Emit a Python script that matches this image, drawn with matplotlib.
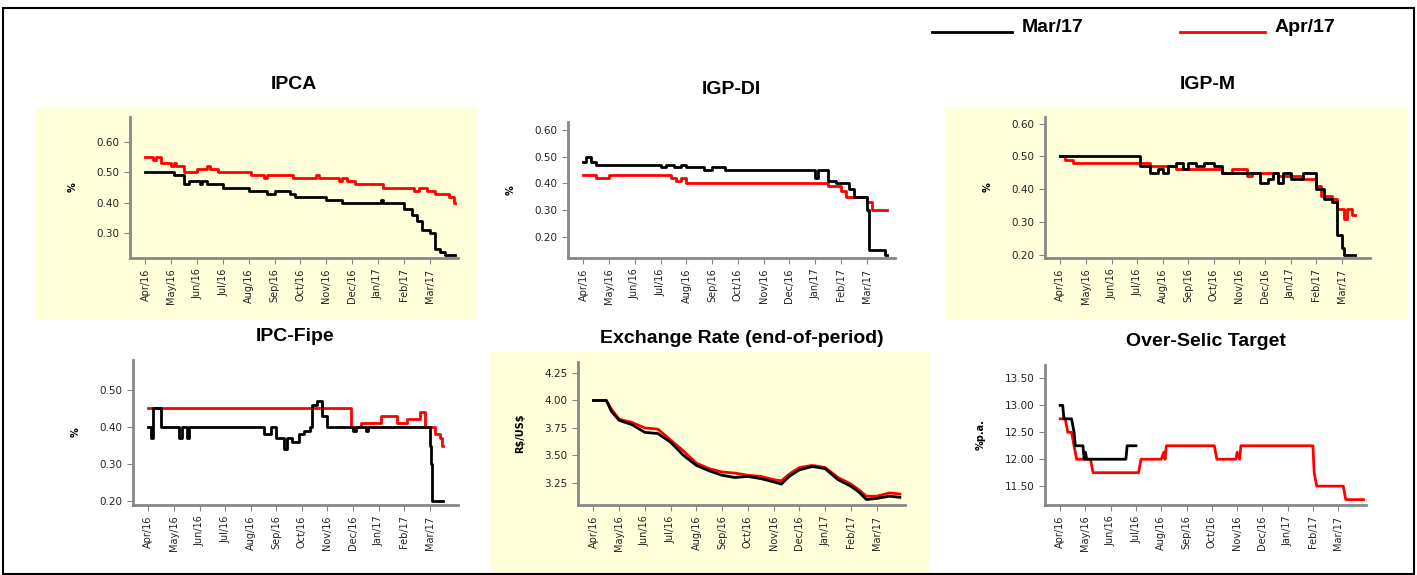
import matplotlib.pyplot as plt
import matplotlib.patches as patches
import numpy as np

plt.rcParams['font.family'] = ['DejaVu Sans']

months = ['Apr/16', 'May/16', 'Jun/16', 'Jul/16', 'Aug/16', 'Sep/16', 'Oct/16',
          'Nov/16', 'Dec/16', 'Jan/17', 'Feb/17', 'Mar/17']

# (x in months since Apr/16, value) breakpoints
ipca_mar = [(0, .50), (1.1, .49), (1.5, .46), (1.7, .47), (2.1, .46), (2.2, .47), (2.4, .46), (3.0, .45),
            (4.0, .44), (4.7, .43), (5.0, .44), (5.6, .43), (5.8, .42), (7.0, .41), (7.6, .40), (9.1, .41),
            (9.2, .40), (10.0, .38), (10.3, .36), (10.5, .34), (10.7, .31), (11.0, .30), (11.2, .25),
            (11.4, .24), (11.6, .23), (12.0, .23)]
ipca_apr = [(0, .55), (0.3, .54), (0.4, .55), (0.6, .53), (1.0, .52), (1.1, .53), (1.2, .52), (1.5, .50),
            (2.0, .51), (2.4, .52), (2.5, .51), (2.8, .50), (4.1, .49), (4.6, .48), (4.7, .49), (5.7, .48),
            (6.6, .49), (6.7, .48), (7.5, .47), (7.6, .48), (7.8, .47), (8.1, .46), (9.2, .45), (10.4, .44),
            (10.6, .45), (10.9, .44), (11.2, .43), (11.75, .42), (11.95, .40), (12.0, .40)]
igpdi_mar = [(0, .48), (0.1, .50), (0.3, .48), (0.5, .47), (3.0, .46), (3.2, .47), (3.5, .46), (3.8, .47),
             (4.0, .46), (4.5, .46), (4.7, .45), (5.0, .46), (5.5, .45), (9.0, .42), (9.1, .45), (9.5, .41),
             (9.8, .40), (10.3, .38), (10.5, .35), (11.0, .30), (11.1, .15), (11.7, .13), (11.8, .13)]
igpdi_apr = [(0, .43), (0.5, .42), (1.0, .43), (3.4, .42), (3.6, .41), (3.8, .42), (4.0, .40), (9.5, .39),
             (10.0, .37), (10.2, .35), (11.0, .33), (11.2, .30), (11.8, .30)]
igpm_mar = [(0, .50), (3.1, .47), (3.5, .45), (3.8, .46), (4.0, .45), (4.2, .47), (4.5, .48), (4.8, .46),
            (5.0, .48), (5.3, .47), (5.6, .48), (6.0, .47), (6.3, .45), (7.8, .42), (8.1, .43), (8.3, .45),
            (8.5, .42), (8.7, .45), (9.0, .43), (9.5, .45), (10.0, .40), (10.3, .37), (10.6, .36),
            (10.8, .26), (11.0, .22), (11.1, .20), (11.5, .20)]
igpm_apr = [(0, .50), (0.2, .49), (0.5, .48), (3.5, .47), (4.5, .46), (6.3, .45), (6.7, .46), (7.3, .44),
            (7.5, .45), (8.5, .44), (9.5, .43), (10.0, .41), (10.2, .38), (10.6, .37), (10.8, .34),
            (11.1, .31), (11.2, .34), (11.4, .32), (11.5, .32)]
fipe_mar = [(0, .40), (0.1, .37), (0.2, .45), (0.5, .40), (1.2, .37), (1.3, .40), (1.5, .37), (1.6, .40),
            (4.5, .38), (4.8, .40), (5.0, .37), (5.3, .34), (5.4, .37), (5.6, .36), (5.9, .38), (6.1, .39),
            (6.3, .40), (6.4, .46), (6.6, .47), (6.8, .43), (7.0, .40), (8.0, .39), (8.1, .40), (8.5, .39),
            (8.6, .40), (11.0, .35), (11.05, .30), (11.1, .20), (11.5, .20)]
fipe_apr = [(0, .45), (7.9, .40), (8.3, .41), (8.7, .41), (9.1, .43), (9.7, .41), (10.1, .42), (10.6, .44),
            (10.8, .40), (11.2, .38), (11.4, .37), (11.48, .35), (11.5, .35)]
fx_mar = [(0, 4.00), (0.5, 4.00), (0.7, 3.90), (1.0, 3.82), (1.5, 3.78), (2.0, 3.71), (2.5, 3.70), (3.0, 3.62),
          (3.5, 3.50), (4.0, 3.41), (4.5, 3.36), (5.0, 3.32), (5.5, 3.30), (6.0, 3.31), (6.5, 3.29),
          (7.0, 3.26), (7.3, 3.24), (7.6, 3.31), (8.0, 3.37), (8.5, 3.40), (9.0, 3.38), (9.5, 3.28),
          (10.0, 3.22), (10.3, 3.17), (10.6, 3.10), (11.0, 3.11), (11.5, 3.13), (11.9, 3.12)]
fx_apr = [(0, 4.00), (0.5, 4.00), (0.7, 3.92), (1.0, 3.83), (1.5, 3.80), (2.0, 3.75), (2.5, 3.74), (3.0, 3.64),
          (3.5, 3.54), (4.0, 3.43), (4.5, 3.38), (5.0, 3.35), (5.5, 3.34), (6.0, 3.32), (6.5, 3.31),
          (7.0, 3.28), (7.3, 3.27), (7.6, 3.33), (8.0, 3.39), (8.5, 3.41), (9.0, 3.39), (9.5, 3.30),
          (10.0, 3.24), (10.3, 3.19), (10.6, 3.13), (11.0, 3.13), (11.5, 3.16), (11.9, 3.15)]
selic_mar = [(0, 13.0), (0.1, 13.0), (0.15, 12.75), (0.45, 12.75), (0.55, 12.5), (0.6, 12.25), (0.9, 12.25),
             (0.95, 12.0), (1.0, 12.13), (1.05, 12.0), (2.6, 12.0), (2.65, 12.25), (3.0, 12.25)]
selic_apr = [(0, 12.75), (0.2, 12.75), (0.25, 12.63), (0.3, 12.5), (0.45, 12.5), (0.55, 12.25),
             (0.65, 12.0), (1.2, 12.0), (1.3, 11.75), (3.1, 11.75), (3.2, 12.0), (4.0, 12.0), (4.1, 12.13),
             (4.15, 12.0), (4.2, 12.25), (6.1, 12.25), (6.2, 12.0), (6.95, 12.0), (7.0, 12.13), (7.1, 12.0),
             (7.15, 12.25), (10.0, 12.25), (10.05, 11.75), (10.15, 11.5), (11.2, 11.5), (11.3, 11.25),
             (12.0, 11.25)]

panels = [
    # title, mar, apr, step, ylim, ticks, ylabel, axes rect (px: l, t, r, b)
    ('IPCA', ipca_mar, ipca_apr, True, (0.22, 0.68), [.3, .4, .5, .6], '%', (130, 117, 458, 258)),
    ('IGP-DI', igpdi_mar, igpdi_apr, True, (0.12, 0.63), [.2, .3, .4, .5, .6], '%', (568, 122, 895, 258)),
    ('IGP-M', igpm_mar, igpm_apr, True, (0.19, 0.62), [.2, .3, .4, .5, .6], '%', (1045, 117, 1370, 258)),
    ('IPC-Fipe', fipe_mar, fipe_apr, True, (0.19, 0.58), [.2, .3, .4, .5], '%', (133, 360, 458, 505)),
    ('Exchange Rate (end-of-period)', fx_mar, fx_apr, False, (3.05, 4.35), [3.25, 3.5, 3.75, 4.0, 4.25],
     r'R\$/US\$', (578, 362, 905, 505)),
    ('Over-Selic Target', selic_mar, selic_apr, False, (11.15, 13.75), [11.5, 12.0, 12.5, 13.0, 13.5],
     '%p.a.', (1045, 365, 1366, 505)),
]
yellow_boxes = [(35, 107, 477, 320), (945, 107, 1408, 320), (490, 352, 930, 575)]

W, H = 1417, 575
fig = plt.figure(figsize=(W / 100, H / 100), dpi=100)
for l, t, r, b in yellow_boxes:
    fig.patches.append(patches.Rectangle((l / W, 1 - b / H), (r - l) / W, (b - t) / H,
                                         transform=fig.transFigure, facecolor='#ffffd9', edgecolor='none',
                                         zorder=-5))
fig.patches.append(patches.Rectangle((3 / W, 1 / H), (W - 6) / W, (H - 9) / H, transform=fig.transFigure,
                                     facecolor='none', edgecolor='black', lw=1.5, zorder=-4))

title_font = ['Liberation Sans', 'DejaVu Sans']
for title, mar, apr, step, ylim, ticks, ylab, (l, t, r, b) in panels:
    ax = fig.add_axes([l / W, 1 - b / H, (r - l) / W, (b - t) / H])
    ax.patch.set_alpha(0)
    for data, c in ((apr, 'red'), (mar, 'black')):
        x = [p[0] for p in data]
        y = [p[1] for p in data]
        if step:
            ax.step(x, y, where='post', color=c, lw=2)
        else:
            ax.plot(x, y, color=c, lw=2)
    ax.set_xlim(-0.6, 12.1)
    ax.set_ylim(*ylim)
    ax.set_yticks(ticks)
    ax.set_yticklabels([f'{v:.2f}' for v in ticks], fontsize=7.5)
    ax.set_xticks(range(12))
    ax.set_xticklabels(months, rotation=90, fontsize=7)
    ax.set_ylabel(ylab, fontsize=7, fontweight='bold', labelpad=14)
    for s in ('top', 'right'):
        ax.spines[s].set_visible(False)
    for s in ('left', 'bottom'):
        ax.spines[s].set_color('#888888')
        ax.spines[s].set_linewidth(2)
    ax.tick_params(colors='#888888', labelcolor='#222222', length=4)
    ax.set_title(title, fontsize=14, fontweight='bold', family=title_font, pad=20 if t < 300 else 14)

fig.add_artist(plt.Line2D([932 / W, 1012 / W], [1 - 32 / H] * 2, color='black', lw=2))
fig.text(1022 / W, 1 - 27 / H, 'Mar/17', fontsize=14, fontweight='bold', va='center', family=title_font)
fig.add_artist(plt.Line2D([1180 / W, 1265 / W], [1 - 32 / H] * 2, color='red', lw=2))
fig.text(1275 / W, 1 - 27 / H, 'Apr/17', fontsize=14, fontweight='bold', va='center', family=title_font)

fig.savefig('out.png', dpi=100)
